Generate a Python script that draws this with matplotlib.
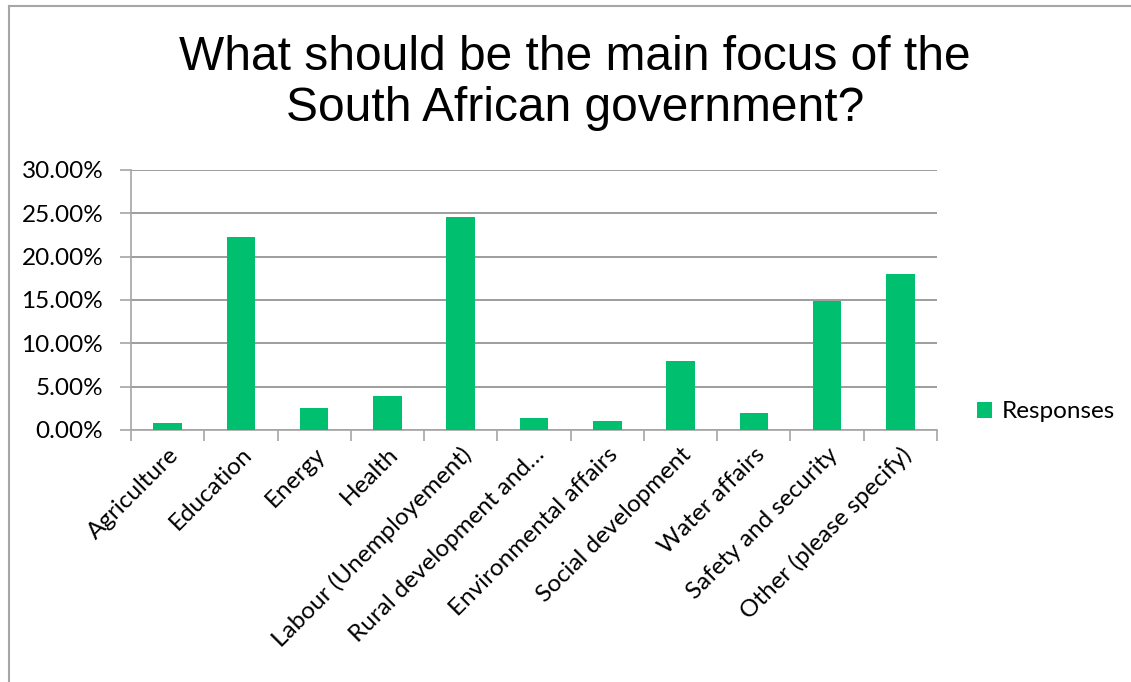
import matplotlib.pyplot as plt
from matplotlib.ticker import FuncFormatter
from matplotlib.lines import Line2D

# data
categorias = ["Agriculture", "Education", "Energy", "Health",
              "Labour (Unemployement)", "Rural development and\u2026",
              "Environmental affairs", "Social development", "Water affairs",
              "Safety and security", "Other (please specify)"]
respuestas = [0.78, 22.3, 2.5, 3.9, 24.6, 1.35, 1.08, 7.96, 1.92, 14.9, 18.0]
yticks = [0, 5, 10, 15, 20, 25, 30]

VERDE = "#00BF6F"
GRIS = "#A6A6A6"
GRILLA = "#8C8C8C"
FUENTE = 17.5

fig = plt.figure(figsize=(11.31, 6.82), dpi=100)
ax = fig.add_axes([131/1131, 252/682, 806/1131, 260/682])

x = range(len(categorias))
ax.bar(x, respuestas, width=0.39, color=VERDE, label="Responses", zorder=3)

ax.set_xlim(-0.5, len(categorias) - 0.5)
ax.set_ylim(0, 30)
ax.set_yticks(yticks)
ax.yaxis.set_major_formatter(FuncFormatter(lambda v, p: f"{v:.2f}%"))
ax.grid(axis="y", color=GRILLA, linewidth=1.2, zorder=0)

# ticks between categories, labels at centres
ax.set_xticks([i - 0.5 for i in range(len(categorias) + 1)])
ax.set_xticklabels([])
ax.set_xticks(list(x), minor=True)
ax.set_xticklabels(categorias, minor=True, rotation=45, ha="right",
                   rotation_mode="anchor", fontsize=FUENTE, family="Lato")
ax.tick_params(axis="x", which="minor", length=0, pad=10)
ax.tick_params(axis="x", which="major", length=8, color=GRIS, width=1.2)
ax.tick_params(axis="y", length=8, color=GRIS, width=1.2, labelsize=FUENTE, pad=12)
for lab in ax.get_yticklabels():
    lab.set_family("Lato")

for s in ["top", "right"]:
    ax.spines[s].set_visible(False)
for s in ["left", "bottom"]:
    ax.spines[s].set_color(GRIS)
    ax.spines[s].set_linewidth(1.2)

fig.text(575/1131, 1 - 83/682, "What should be the main focus of the\nSouth African government?",
         ha="center", va="center", fontsize=34.5, family="Liberation Sans",
         linespacing=1.15)

ax.legend(loc="center left", bbox_to_anchor=(1.022, 0.07), frameon=False,
          prop={"family": "Lato", "size": FUENTE}, handlelength=0.65,
          handleheight=0.65, handletextpad=0.4)

# chart border
fig.add_artist(Line2D([9/1131, 9/1131], [0, 1 - 6/682], color=GRIS, lw=1.5))
fig.add_artist(Line2D([9/1131, 1], [1 - 6/682, 1 - 6/682], color=GRIS, lw=1.5))

fig.savefig("out.png", dpi=100)
